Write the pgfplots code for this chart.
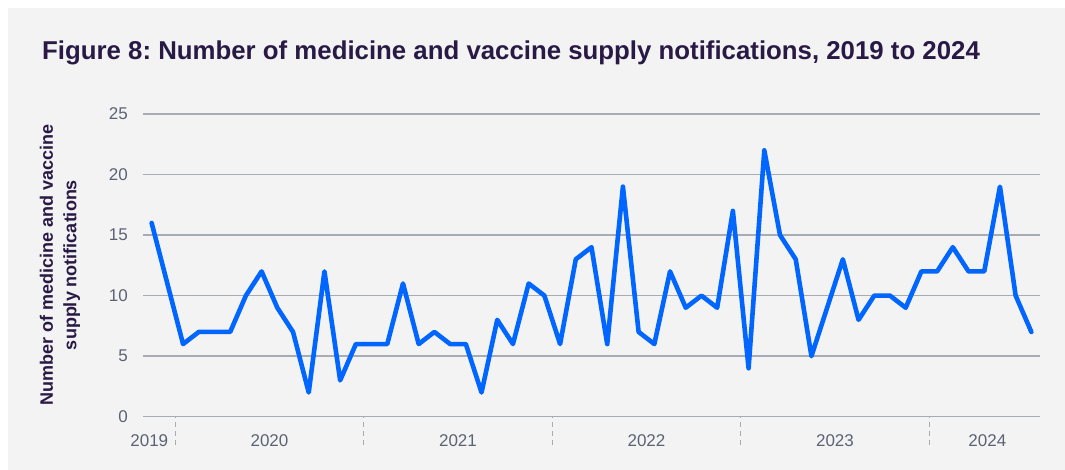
\documentclass[border=0pt]{standalone}
\usepackage{pgfplots}
\pgfplotsset{compat=1.18}
\usepackage{pgfplotstable}
\usepackage{fontspec}
\setmainfont{Liberation Sans}
\frenchspacing

\definecolor{bgpanel}{HTML}{F3F3F3}
\definecolor{titlepurple}{HTML}{291A45}
\definecolor{tickgrey}{HTML}{5A6375}
\definecolor{gridgrey}{HTML}{A7ABB3}
\definecolor{lineblue}{HTML}{0066FF}

% Monthly notifications, Nov 2019 (t = 0) to Jul 2024 (t = 56)
\pgfplotstableread{
t  n
0  16
1  11
2  6
3  7
4  7
5  7
6  10
7  12
8  9
9  7
10 2
11 12
12 3
13 6
14 6
15 6
16 11
17 6
18 7
19 6
20 6
21 2
22 8
23 6
24 11
25 10
26 6
27 13
28 14
29 6
30 19
31 7
32 6
33 12
34 9
35 10
36 9
37 17
38 4
39 22
40 15
41 13
42 5
43 9
44 13
45 8
46 10
47 10
48 9
49 12
50 12
51 14
52 12
53 12
54 19
55 10
56 7
}\notifications

\begin{document}
\begin{tikzpicture}
  % page and panel
  \fill[white] (0,0) rectangle (1065bp,470bp);
  \fill[bgpanel] (8bp,0) rectangle (1065bp,462bp);
  \useasboundingbox (0,0) rectangle (1065bp,470bp);

  % title
  \node[anchor=base west, inner sep=0pt, text=titlepurple,
        font=\fontsize{25.8bp}{30bp}\selectfont\bfseries]
    at (42bp,410bp) {Figure 8: Number of medicine and vaccine supply notifications, 2019 to 2024};

  % y-axis title
  \node[rotate=90, align=center, inner sep=0pt, text=titlepurple,
        font=\fontsize{18bp}{23.5bp}\selectfont\bfseries]
    at (60bp,205bp) {Number of medicine and vaccine\\supply notifications};

  \begin{axis}[
    at={(143bp,53.3bp)}, anchor=south west,
    scale only axis,
    width=897bp, height=302.7bp,
    xmin=-0.55, xmax=56.55,
    ymin=0, ymax=25,
    axis line style={draw=none},
    ytick={0,5,10,15,20,25},
    ymajorgrids,
    grid style={gridgrey, line width=1.4bp},
    y tick style={draw=none},
    major tick length=0pt,
    xtick pos=lower,
    xtick={-0.15,7.5,19.5,31.5,43.5,53.2},
    xticklabels={2019,2020,2021,2022,2023,2024},
    % year separators below the axis
    extra x ticks={1.5,13.5,25.5,37.5,49.5},
    extra x tick labels={},
    extra x tick style={
      major tick length=28bp, tick align=outside,
      tick style={draw=gridgrey, line width=1.3bp, dash pattern=on 5bp off 4bp}},
    /pgf/number format/assume math mode=true,
    ticklabel style={text=tickgrey, font=\fontsize{17bp}{20bp}\selectfont, inner sep=0pt},
    yticklabel style={anchor=east, xshift=-15bp},
    xticklabel style={anchor=center, yshift=-23.5bp},
    clip=false,
  ]
    \addplot[lineblue, line width=4.6bp, line join=round, line cap=round]
      table[x=t, y=n] {\notifications};
  \end{axis}
\end{tikzpicture}
\end{document}
